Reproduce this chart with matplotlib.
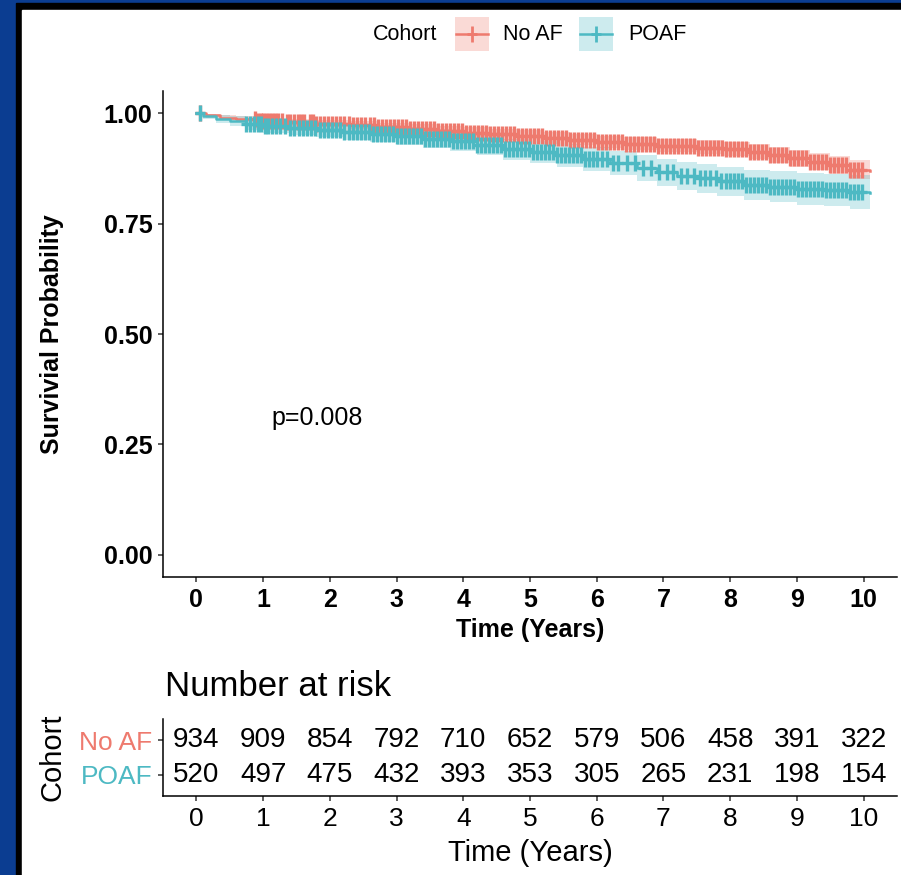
import numpy as np
import matplotlib
matplotlib.use("Agg")
import matplotlib.pyplot as plt
from matplotlib.patches import Rectangle
from matplotlib.lines import Line2D
from matplotlib.path import Path

plt.rcParams['font.family'] = ['Liberation Sans', 'DejaVu Sans']

# ---- data ----
groups = ['No AF', 'POAF']
colors = ['#EE7A6E', '#4DB9C3']

noaf_t = [0, 0.15, 0.35, 0.6, 0.9, 1.3, 1.8, 2.3, 2.7, 3.2, 3.6, 4.0, 4.4, 4.8,
          5.2, 5.6, 6.0, 6.4, 6.9, 7.5, 7.9, 8.3, 8.6, 8.9, 9.2, 9.5, 9.8, 10.1]
noaf_s = [1.0, 0.995, 0.99, 0.986, 0.982, 0.979, 0.976, 0.972, 0.968, 0.964, 0.96,
          0.956, 0.952, 0.948, 0.944, 0.94, 0.934, 0.93, 0.926, 0.922, 0.918, 0.912,
          0.905, 0.898, 0.89, 0.882, 0.872, 0.868]
noaf_lo = [1.0, 0.99, 0.984, 0.979, 0.975, 0.971, 0.968, 0.963, 0.958, 0.954, 0.949,
           0.945, 0.94, 0.936, 0.931, 0.927, 0.92, 0.916, 0.911, 0.907, 0.902, 0.895,
           0.887, 0.879, 0.871, 0.862, 0.851, 0.847]
noaf_hi = [1.0, 0.999, 0.996, 0.993, 0.99, 0.987, 0.985, 0.981, 0.978, 0.975, 0.971,
           0.968, 0.964, 0.961, 0.957, 0.953, 0.948, 0.945, 0.941, 0.938, 0.934, 0.929,
           0.923, 0.917, 0.909, 0.902, 0.893, 0.889]

poaf_t = [0, 0.1, 0.3, 0.5, 0.75, 1.0, 1.4, 1.8, 2.2, 2.6, 3.0, 3.4, 3.8, 4.2, 4.6,
          5.0, 5.4, 5.8, 6.2, 6.6, 6.9, 7.2, 7.5, 7.8, 8.2, 8.6, 9.0, 9.4, 9.8, 10.1]
poaf_s = [1.0, 0.993, 0.987, 0.982, 0.975, 0.97, 0.966, 0.962, 0.958, 0.953, 0.948,
          0.942, 0.936, 0.928, 0.918, 0.912, 0.905, 0.896, 0.887, 0.876, 0.866, 0.858,
          0.852, 0.846, 0.838, 0.833, 0.829, 0.826, 0.822, 0.82]
poaf_lo = [1.0, 0.986, 0.977, 0.971, 0.962, 0.955, 0.95, 0.945, 0.94, 0.934, 0.928,
           0.921, 0.914, 0.905, 0.894, 0.887, 0.879, 0.869, 0.859, 0.847, 0.836, 0.827,
           0.82, 0.813, 0.804, 0.798, 0.793, 0.789, 0.784, 0.782]
poaf_hi = [1.0, 0.999, 0.996, 0.993, 0.988, 0.985, 0.982, 0.979, 0.976, 0.972, 0.968,
           0.963, 0.958, 0.951, 0.942, 0.937, 0.931, 0.923, 0.915, 0.905, 0.896, 0.889,
           0.884, 0.879, 0.872, 0.868, 0.865, 0.863, 0.86, 0.858]

noaf_cens = [0.05, 0.88, 0.92, 0.97, 1.0, 1.04, 1.09, 1.13, 1.18, 1.23, 1.28, 1.36,
             1.41, 1.46, 1.52, 1.57, 1.62, 1.7, 1.75, 1.8, 1.86, 1.92, 1.98, 2.04,
             2.1, 2.16, 2.22, 2.28, 2.35, 2.4, 2.47, 2.53, 2.6, 2.66, 2.72, 2.78, 2.84,
             2.9, 2.96, 3.02, 3.08, 3.14, 3.2, 3.26, 3.32, 3.38, 3.44, 3.5, 3.56, 3.62,
             3.68, 3.74, 3.8, 3.86, 3.92, 3.98, 4.04, 4.1, 4.16, 4.22, 4.28, 4.34, 4.4,
             4.46, 4.52, 4.58, 4.64, 4.7, 4.76, 4.82, 4.88, 4.94, 5.0, 5.06, 5.12, 5.18,
             5.24, 5.3, 5.36, 5.42, 5.48, 5.54, 5.6, 5.66, 5.72, 5.78, 5.84, 5.9, 5.96,
             6.02, 6.08, 6.14, 6.2, 6.26, 6.32, 6.38, 6.44, 6.5, 6.56, 6.62, 6.68, 6.74,
             6.8, 6.86, 6.92, 6.98, 7.04, 7.1, 7.16, 7.22, 7.28, 7.34, 7.4, 7.46, 7.52,
             7.58, 7.64, 7.7, 7.76, 7.82, 7.88, 7.94, 8.0, 8.06, 8.12, 8.18, 8.24, 8.3,
             8.36, 8.42, 8.48, 8.54, 8.6, 8.66, 8.72, 8.78, 8.84, 8.9, 8.96, 9.02, 9.08,
             9.14, 9.2, 9.26, 9.32, 9.38, 9.44, 9.5, 9.56, 9.62, 9.68, 9.74, 9.8, 9.86,
             9.92, 9.98]
poaf_cens = [0.05, 0.75, 0.8, 0.86, 0.92, 0.97, 1.03, 1.08, 1.14, 1.2, 1.26, 1.33,
             1.4, 1.47, 1.54, 1.6, 1.66, 1.72, 1.78, 1.85, 1.92, 1.98, 2.04, 2.1, 2.16,
             2.22, 2.28, 2.34, 2.4, 2.46, 2.52, 2.58, 2.64, 2.7, 2.76, 2.82, 2.88, 2.94,
             3.0, 3.06, 3.12, 3.18, 3.24, 3.3, 3.36, 3.42, 3.48, 3.54, 3.6, 3.66, 3.72,
             3.78, 3.84, 3.9, 3.96, 4.02, 4.08, 4.14, 4.2, 4.26, 4.32, 4.38, 4.44, 4.5,
             4.56, 4.62, 4.68, 4.74, 4.8, 4.86, 4.92, 4.98, 5.04, 5.1, 5.16, 5.22, 5.28,
             5.34, 5.4, 5.46, 5.52, 5.58, 5.64, 5.7, 5.76, 5.82, 5.88, 5.94, 6.0, 6.08,
             6.16, 6.24, 6.32, 6.45, 6.58, 6.7, 6.82, 6.93, 7.05, 7.15, 7.26, 7.35,
             7.46, 7.55, 7.62, 7.7, 7.78, 7.86, 7.94, 8.0, 8.06, 8.12, 8.18, 8.24, 8.3,
             8.36, 8.42, 8.48, 8.54, 8.6, 8.66, 8.72, 8.78, 8.84, 8.9, 8.96, 9.02, 9.08,
             9.14, 9.2, 9.26, 9.32, 9.38, 9.44, 9.5, 9.56, 9.62, 9.68, 9.74, 9.8, 9.86,
             9.92, 9.98]

risk_times = list(range(0, 11))
risk_noaf = [934, 909, 854, 792, 710, 652, 579, 506, 458, 391, 322]
risk_poaf = [520, 497, 475, 432, 393, 353, 305, 265, 231, 198, 154]
p_text = 'p=0.008'

curves = [(noaf_t, noaf_s, noaf_lo, noaf_hi, noaf_cens),
          (poaf_t, poaf_s, poaf_lo, poaf_hi, poaf_cens)]

# ---- figure ----
W, H = 901, 875
fig = plt.figure(figsize=(W / 100, H / 100), dpi=100, facecolor='#0b3d91')


def fx(px):
    return px / W


def fy(py):
    return 1 - py / H


fig.patches.append(Rectangle((fx(16), 0), 1, fy(3), transform=fig.transFigure,
                             color='black', zorder=-10))
fig.patches.append(Rectangle((fx(22), 0), 1, fy(10), transform=fig.transFigure,
                             color='white', zorder=-9))

# plus shape like ggplot's censor mark (a bit taller than wide)
plus = Path([(-0.6, 0), (0.6, 0), (0, -1), (0, 1)],
            [Path.MOVETO, Path.LINETO, Path.MOVETO, Path.LINETO])

ax = fig.add_axes([fx(163), fy(577), fx(897) - fx(163), fy(91) - fy(577)])
ax.set_facecolor('white')
for (t, s, lo, hi, cens), c in zip(curves, colors):
    ax.fill_between(t, lo, hi, step='post', color=c, alpha=0.28, lw=0)
    ax.step(t, s, where='post', color=c, lw=1.8)
    idx = np.searchsorted(t, cens, side='right') - 1
    ax.plot(cens, np.array(s)[idx], ls='none', marker=plus, ms=11, mew=2.4,
            color=c)

ax.set_xlim(-0.5, 10.5)
ax.set_ylim(-0.05, 1.05)
ax.set_xticks(risk_times)
ax.set_yticks([0, 0.25, 0.5, 0.75, 1.0])
ax.set_yticklabels(['0.00', '0.25', '0.50', '0.75', '1.00'])
for sp in ['top', 'right']:
    ax.spines[sp].set_visible(False)
for sp in ['left', 'bottom']:
    ax.spines[sp].set_linewidth(1.1)
ax.tick_params(length=3.6, width=1.1, color='#333333', labelsize=18, pad=4)
for lab in ax.get_xticklabels() + ax.get_yticklabels():
    lab.set_fontweight('bold')
ax.set_xlabel('Time (Years)', fontsize=18, fontweight='bold', labelpad=5)
ax.text(1.13, 0.31, p_text, fontsize=18, ha='left', va='center')
fig.text(fx(52), fy(334), 'Survivial Probability', rotation=90, fontsize=18,
         fontweight='bold', ha='center', va='center')

# ---- legend ----
fig.text(fx(373), fy(34), 'Cohort', fontsize=15.5, ha='left', va='center')
leg_x = [455, 579]
leg_txt = [503, 628]
for g, c, bx, tx in zip(groups, colors, leg_x, leg_txt):
    fig.patches.append(Rectangle((fx(bx), fy(51)), 34 / W, 34 / H,
                                 transform=fig.transFigure, color=c, alpha=0.28,
                                 lw=0))
    fig.add_artist(Line2D([fx(bx + 1), fx(bx + 33)], [fy(34), fy(34)], color=c,
                          lw=1.8, transform=fig.transFigure))
    fig.add_artist(Line2D([fx(bx + 17)], [fy(34)], marker=plus, ms=11, mew=2.0,
                          color=c, transform=fig.transFigure))
    fig.text(fx(tx), fy(34), g, fontsize=15.5, ha='left', va='center')

# ---- risk table ----
tb = fig.add_axes([fx(163), fy(796), fx(897) - fx(163), fy(719) - fy(796)])
tb.set_xlim(-0.5, 10.5)
tb.set_ylim(0.4, 2.6)
for x, a, b in zip(risk_times, risk_noaf, risk_poaf):
    tb.text(x, 2, str(a), fontsize=20, ha='center', va='center')
    tb.text(x, 1, str(b), fontsize=20, ha='center', va='center')
tb.set_xticks(risk_times)
tb.set_yticks([1, 2])
tb.set_yticklabels(['POAF', 'No AF'])
for lab, c in zip(tb.get_yticklabels(), colors[::-1]):
    lab.set_color(c)
for sp in ['top', 'right']:
    tb.spines[sp].set_visible(False)
for sp in ['left', 'bottom']:
    tb.spines[sp].set_linewidth(1.1)
tb.tick_params(length=3.6, width=1.1, color='#333333', labelsize=19, pad=4)
tb.set_xlabel('Time (Years)', fontsize=21, labelpad=6)
fig.text(fx(165), fy(686), 'Number at risk', fontsize=25, ha='left', va='center')
fig.text(fx(52), fy(757), 'Cohort', rotation=90, fontsize=21, ha='center',
         va='center')

fig.savefig('out.png', dpi=100, facecolor=fig.get_facecolor())
